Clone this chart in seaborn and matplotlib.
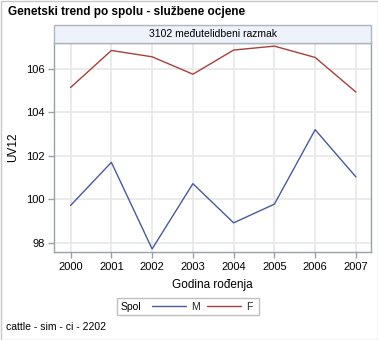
import matplotlib
matplotlib.use("Agg")
import matplotlib.pyplot as plt
from matplotlib.patches import Rectangle
import seaborn as sns
import pandas as pd

years = [2000, 2001, 2002, 2003, 2004, 2005, 2006, 2007]
m_values = [99.72, 101.70, 97.72, 100.72, 98.92, 99.78, 103.20, 101.03]
f_values = [105.14, 106.84, 106.55, 105.75, 106.86, 107.04, 106.52, 104.93]
series_names = ["M", "F"]
y_ticks = [98, 100, 102, 104, 106]

title = "Genetski trend po spolu - službene ocjene"
panel_label = "3102 međutelidbeni razmak"
x_label = "Godina rođenja"
y_label = "UV12"
legend_title = "Spol"
footer = "cattle - sim - ci - 2202"

df = pd.DataFrame({
    "year": years * 2,
    "value": m_values + f_values,
    "Spol": [series_names[0]] * len(years) + [series_names[1]] * len(years),
})

sns.set_theme(style="white")
plt.rcParams["font.family"] = ["Liberation Sans", "DejaVu Sans"]

W, H = 378, 340
fig = plt.figure(figsize=(W / 100, H / 100), dpi=100)

def fx(px):
    return px / W

def fy(py):
    return 1 - py / H

# outer border
fig.patches.append(Rectangle((fx(0.5), fy(339.5)), fx(377), 339 / H, transform=fig.transFigure,
                             fill=False, edgecolor="#c8c8c8", lw=1))

left, right, top, bottom = 54.3, 371, 43.3, 252
ax = fig.add_axes([fx(left), fy(bottom), fx(right - left), (bottom - top) / H])

palette = {"M": "#4a5a9c", "F": "#a8403a"}
sns.lineplot(data=df, x="year", y="value", hue="Spol", palette=palette, ax=ax,
             lw=1.0, legend=False)

ax.set_xlim(1999.6, 2007.37)
ax.set_ylim(97.58, 107.17)
ax.set_xticks(years)
ax.set_xticklabels([str(y) for y in years])
ax.set_yticks(y_ticks)
ax.set_yticklabels([str(v) for v in y_ticks])
ax.grid(True, color="#e8e8e8", lw=1.2)
ax.set_axisbelow(True)
for s in ax.spines.values():
    s.set_color("#9ca0a8")
    s.set_linewidth(1)
ax.tick_params(axis="both", direction="out", length=4, width=1, color="#9ca0a8",
               labelsize=8, labelcolor="black", pad=3, bottom=True, left=True)
ax.set_xlabel(x_label, fontsize=8.5, labelpad=5, color="black")
ax.set_ylabel(y_label, fontsize=8.5, labelpad=5, color="black")

# panel header strip
fig.patches.append(Rectangle((fx(left), fy(top)), fx(right - left), (top - 25) / H,
                             transform=fig.transFigure, facecolor="#eef2fa",
                             edgecolor="#b0b4bc", lw=1))
fig.text(fx((left + right) / 2), fy(34), panel_label, ha="center", va="center",
         fontsize=7.5, color="black")

# title
fig.text(fx(8), fy(12), title, ha="left", va="center", fontsize=8.5, fontweight="bold",
         color="black")

# legend
fig.patches.append(Rectangle((fx(117), fy(314.5)), fx(259 - 117), (314.5 - 298) / H,
                             transform=fig.transFigure, fill=False,
                             edgecolor="#c0c0c0", lw=1))
fig.text(fx(121), fy(306.5), legend_title, ha="left", va="center", fontsize=7.5,
         color="black")
handles = [plt.Line2D([], [], color=palette[n], lw=1.0) for n in series_names]
fig.legend(handles, series_names, loc="center left",
           bbox_to_anchor=(fx(152), fy(306.5)), ncol=2, frameon=False,
           fontsize=7.5, handlelength=3.3, handletextpad=0.5, columnspacing=0.6,
           borderpad=0, borderaxespad=0)

# footer
fig.text(fx(6), fy(327), footer, ha="left", va="center", fontsize=7.5, color="black")

fig.savefig("out.png", dpi=100)
